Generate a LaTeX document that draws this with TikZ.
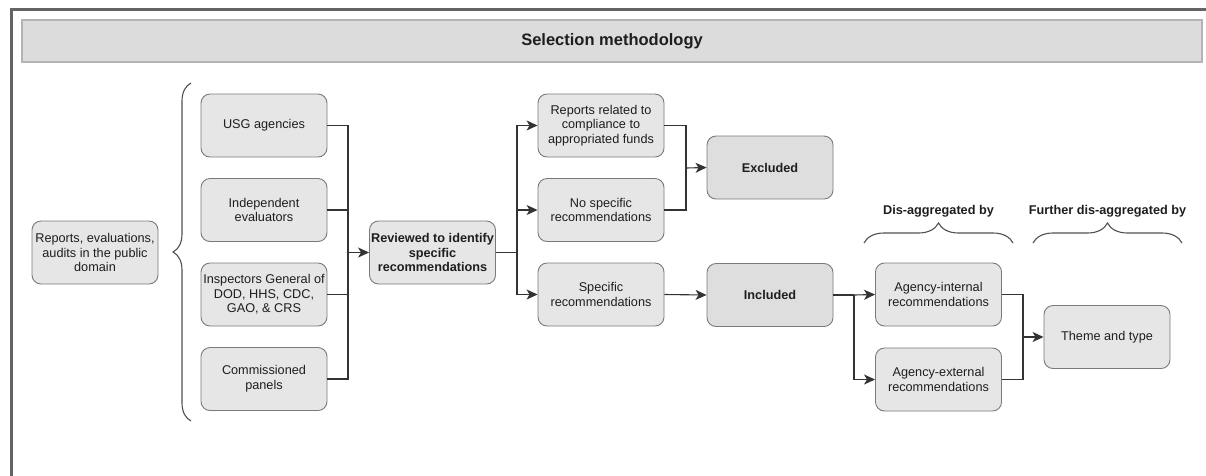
\documentclass[tikz,border=0pt]{standalone}
\usepackage{fontspec}
\setmainfont{Liberation Sans}
\usetikzlibrary{arrows.meta,decorations.pathreplacing}

\definecolor{boxfill}{HTML}{E6E6E6}
\definecolor{boxfilldark}{HTML}{DEDEDE}
\definecolor{boxline}{HTML}{7A7A7A}
\definecolor{wire}{HTML}{333333}
\definecolor{bracecol}{HTML}{505050}
\definecolor{titlefill}{HTML}{DCDCDC}
\definecolor{titleline}{HTML}{B4B4B4}
\definecolor{framecol}{HTML}{646464}
\definecolor{txt}{HTML}{1E1E1E}

\tikzset{
  box/.style={draw=boxline, line width=0.9pt, fill=boxfill, rounded corners=9pt,
    minimum width=126pt, minimum height=63pt, align=center, inner sep=1pt,
    text=txt, font=\fontsize{12.7}{14.7}\selectfont},
  darkbox/.style={box, fill=boxfilldark, font=\fontsize{12.7}{14.7}\selectfont\bfseries},
  boldbox/.style={box, font=\fontsize{12.7}{14.7}\selectfont\bfseries},
  wireline/.style={draw=wire, line width=1.1pt},
  arr/.style={wireline, -{Stealth[length=11pt,width=10pt,inset=3pt]}},
  bracepath/.style={draw=bracecol, line width=1.1pt,
    decorate, decoration={brace, amplitude=#1}},
  headlabel/.style={text=txt, font=\fontsize{12.7}{14.7}\selectfont\bfseries}
}

\begin{document}
\begin{tikzpicture}[x=1pt, y=-1pt]
  \useasboundingbox (0,0) rectangle (1206,475);
  \fill[white] (0,0) rectangle (1206,475);

  % outer frame (only top and left edges lie inside the page)
  \draw[framecol, line width=3pt] (11,480) -- (11,9) -- (1210,9);

  % title bar
  \node[draw=titleline, line width=1.2pt, fill=titlefill, minimum width=1180pt,
        minimum height=42pt, inner sep=0pt, text=txt,
        font=\fontsize{16.5}{19}\selectfont\bfseries] (title) at (612,41)
        {Selection methodology};

  % source
  \node[box] (rep) at (95,252.5) {Reports, evaluations,\\audits in the public\\domain};

  % brace grouping the source types
  \draw[bracepath=18pt] (191,421) -- (191,83);

  \node[box] (usg) at (264,125.5) {USG agencies};
  \node[box] (ind) at (264,210) {Independent\\evaluators};
  \node[box] (ig)  at (264,294.5) {Inspectors General of\\DOD, HHS, CDC,\\GAO, \& CRS};
  \node[box] (com) at (264,379) {Commissioned\\panels};

  \node[boldbox] (rev) at (432.5,252.5) {Reviewed to identify\\specific\\recommendations};

  \node[box] (rel)  at (601,125.5) {Reports related to\\compliance to\\appropriated funds};
  \node[box] (nos)  at (601,210) {No specific\\recommendations};
  \node[box] (spec) at (601,294.5) {Specific\\recommendations};

  \node[darkbox] (exc) at (770,167.5) {Excluded};
  \node[darkbox] (inc) at (770,295) {Included};

  \node[box] (ai) at (938.5,294.5) {Agency-internal\\recommendations};
  \node[box] (ae) at (938.5,379.5) {Agency-external\\recommendations};

  \node[box] (theme) at (1107,337) {Theme and type};

  % headings with braces
  \node[headlabel] (dis) at (938.5,211) {Dis-aggregated by};
  \draw[bracepath=20pt] (864,243) -- (1013,243);
  \node[headlabel] (fur) at (1107.5,211) {Further dis-aggregated by};
  \draw[bracepath=20pt] (1033,243) -- (1182,243);

  % junction points
  \coordinate (b1) at (348,252.5);
  \coordinate (b2) at (517,252.5);
  \coordinate (b3) at (686,168);
  \coordinate (b4) at (854,295);
  \coordinate (b5) at (1023,337);

  % sources merge into review
  \draw[wireline] (usg.east) -| (b1) |- (com.east);
  \draw[wireline] (ind.east) -- (ind.east -| b1);
  \draw[wireline] (ig.east) -- (ig.east -| b1);
  \draw[arr] (b1) -- (rev.west);

  % review splits into outcomes
  \draw[wireline] (rev.east) -- (b2);
  \draw[arr] (b2) |- (rel.west);
  \draw[arr] (b2 |- nos.west) -- (nos.west);
  \draw[arr] (b2) |- (spec.west);

  % excluded branch
  \draw[wireline] (rel.east) -| (b3) |- (nos.east);
  \draw[arr] (b3) -- (exc.west);

  % included branch
  \draw[arr] (spec.east) -- (inc.west);
  \draw[wireline] (inc.east) -- (b4);
  \draw[arr] (b4) -- (ai.west);
  \draw[arr] (b4) |- (ae.west);

  % final grouping
  \draw[wireline] (ai.east) -| (b5) |- (ae.east);
  \draw[arr] (b5) -- (theme.west);
\end{tikzpicture}
\end{document}
